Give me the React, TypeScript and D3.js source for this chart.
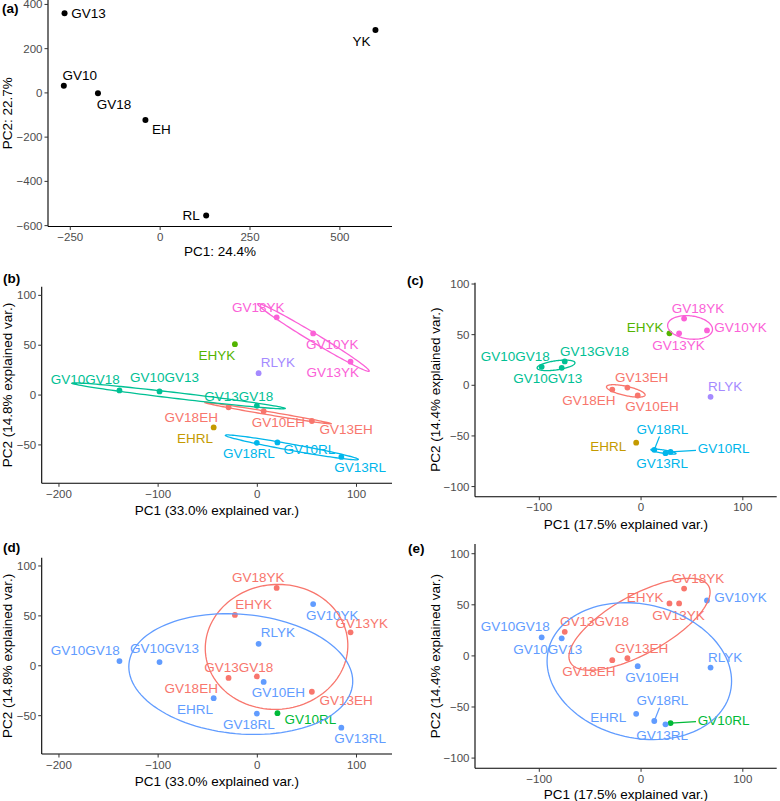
import React from "react";
import * as d3 from "d3";

// ---------- DATA ----------
const A_LABELS = ["GV13", "GV10", "GV18", "EH", "YK", "RL"];
const A_PC1 = [-266, -268, -173, -41, 599, 128];
const A_PC2 = [360, 32, -2, -122, 284, -554];
const A_X_TICKS = [-250, 0, 250, 500];
const A_Y_TICKS = [-600, -400, -200, 0, 200, 400];

const SAMPLES = ["GV18YK", "GV10YK", "GV13YK", "EHYK", "RLYK", "GV10GV18", "GV10GV13", "GV13GV18", "GV18EH", "GV10EH", "GV13EH", "EHRL", "GV18RL", "GV10RL", "GV13RL"];
// PCA used in panels (b) and (d)
const BD_PC1 = [19.5, 56.3, 94, -22.6, 1.3, -139, -98.6, -0.5, -29, 6.4, 55, -44, -0.5, 20.3, 84.7];
const BD_PC2 = [78, 61.8, 33.5, 51, 22, 4.7, 3.7, -10.7, -12.2, -16.2, -26, -32.5, -47.9, -47.5, -62];
// PCA used in panels (c) and (e)
const CE_PC1 = [42.3, 64.8, 37.4, 27.9, 68.3, -97.7, -78, -75, -28.3, -3.3, -13.4, -4.8, 13, 29, 24];
const CE_PC2 = [65.9, 54.2, 51.3, 51.3, -11.4, 18.2, 17.2, 23.6, -4.2, -10.1, -2.3, -56.7, -63.7, -65.7, -67];

const GROUPS7 = ["YK", "YK", "YK", "EHYK", "RLYK", "GVGV", "GVGV", "GVGV", "EH", "EH", "EH", "EHRL", "RL", "RL", "RL"];
const GROUP7_NAMES = ["EH", "EHRL", "EHYK", "GVGV", "RL", "RLYK", "YK"];
const GROUP7_COLORS = ["#F8766D", "#C49A00", "#53B400", "#00C094", "#00B6EB", "#A58AFF", "#FB61D7"];

const GROUPS3 = ["G1", "G3", "G1", "G1", "G3", "G3", "G3", "G1", "G1", "G3", "G1", "G3", "G3", "G2", "G3"];
const GROUP3_NAMES = ["G1", "G2", "G3"];
const GROUP3_COLORS = ["#F8766D", "#00BA38", "#619CFF"];

const BD_X_TICKS = [-200, -100, 0, 100];
const BD_Y_TICKS = [-50, 0, 50, 100];
const CE_X_TICKS = [-100, 0, 100];
const CE_Y_TICKS = [-100, -50, 0, 50, 100];

// ---------- LAYOUT (label offsets in px) ----------
const OFF_A: Record<string, [number, number]> = {
  GV13: [24, 0], GV10: [16, -10], GV18: [16, 11], EH: [16, 10], YK: [-14, 11], RL: [-15, 0],
};
const OFF_BD: Record<string, [number, number]> = {
  GV18YK: [-18.3, -10], GV10YK: [19, 11.3], GV13YK: [-17.7, 11.3], EHYK: [-18, 11], RLYK: [19.3, -11],
  GV10GV18: [-34.3, -11], GV10GV13: [5, -14], GV13GV18: [-18, -9.3], GV18EH: [-37.3, 10.3],
  GV10EH: [14.7, 11.7], GV13EH: [34.3, 9], EHRL: [-18.7, 11], GV18RL: [-8, 10.7], GV10RL: [32, 7], GV13RL: [18.7, 10.7],
};
const OFF_D_OVERRIDE: Record<string, [number, number]> = {
  GV13YK: [11.3, -9.3], EHYK: [18.7, -10], GV10RL: [33, 6.3], GV10EH: [14.7, 10.7],
};
const OFF_CE: Record<string, [number, number]> = {
  GV18YK: [14, -10.5], GV10YK: [33.5, -2.6], GV13YK: [-0.7, 12.3], EHYK: [-24.2, -6.3],
  GV10GV18: [-26.3, -10.3], GV13GV18: [29.7, -10.3], GV10GV13: [-14, 10.8], GV13EH: [14.3, -10.2],
  GV18EH: [-23.3, 11.3], GV10EH: [14.3, 11.3], RLYK: [14.5, -10.2], EHRL: [-28, 4],
  GV18RL: [8, -20.3], GV13RL: [-3.3, 10.8], GV10RL: [53, -3],
};
const SEGMENT_LABELS = ["GV18RL", "GV10RL"];

const FONT = "'Liberation Sans', Arial, Helvetica, sans-serif";
const LABEL_SIZE = 13.5;

function fmt(v: number) {
  return v < 0 ? "\u2212" + Math.abs(v) : String(v);
}

function ellipsePath(xs: number[], ys: number[], sx: any, sy: any) {
  const n = xs.length;
  const mx = d3.mean(xs) as number;
  const my = d3.mean(ys) as number;
  let sxx = 0, syy = 0, sxy = 0;
  for (let i = 0; i < n; i++) {
    sxx += (xs[i] - mx) ** 2;
    syy += (ys[i] - my) ** 2;
    sxy += (xs[i] - mx) * (ys[i] - my);
  }
  sxx /= n - 1; syy /= n - 1; sxy /= n - 1;
  const tr = sxx + syy, det = sxx * syy - sxy * sxy;
  const disc = Math.sqrt(Math.max(tr * tr / 4 - det, 0));
  const l1 = tr / 2 + disc, l2 = Math.max(tr / 2 - disc, 0);
  let v1x: number, v1y: number;
  if (Math.abs(sxy) > 1e-12) { v1x = l1 - syy; v1y = sxy; }
  else if (sxx >= syy) { v1x = 1; v1y = 0; } else { v1x = 0; v1y = 1; }
  const norm = Math.hypot(v1x, v1y);
  v1x /= norm; v1y /= norm;
  const v2x = -v1y, v2y = v1x;
  const r = Math.sqrt(-2 * Math.log(1 - 0.68));
  const pts: [number, number][] = [];
  for (let k = 0; k < 120; k++) {
    const t = (k / 120) * 2 * Math.PI;
    const a = r * Math.sqrt(l1) * Math.cos(t);
    const b = r * Math.sqrt(l2) * Math.sin(t);
    pts.push([sx(mx + a * v1x + b * v2x), sy(my + a * v1y + b * v2y)]);
  }
  return d3.line().curve(d3.curveLinearClosed)(pts) as string;
}

function Axes(props: any) {
  const { sx, sy, xTicks, yTicks, xTitle, yTitle, yTitleX, xTitleY, tag, tagX, tagY } = props;
  const [x0, x1] = sx.range();
  const [y0, y1] = sy.range();
  return (
    <g fontFamily={FONT}>
      <line x1={x0} x2={x1} y1={y0} y2={y0} stroke="black" strokeWidth={1.1} />
      <line x1={x0} x2={x0} y1={y0} y2={y1} stroke="black" strokeWidth={1.1} />
      {xTicks.map((t: number) => (
        <g key={"x" + t}>
          <line x1={sx(t)} x2={sx(t)} y1={y0} y2={y0 + 3.5} stroke="#333" strokeWidth={1} />
          <text x={sx(t)} y={y0 + 10.5} textAnchor="middle" dominantBaseline="central" fontSize={11.5} fill="#4D4D4D">{fmt(t)}</text>
        </g>
      ))}
      {yTicks.map((t: number) => (
        <g key={"y" + t}>
          <line x1={x0} x2={x0 - 3.5} y1={sy(t)} y2={sy(t)} stroke="#333" strokeWidth={1} />
          <text x={x0 - 5.5} y={sy(t)} textAnchor="end" dominantBaseline="central" fontSize={11.5} fill="#4D4D4D">{fmt(t)}</text>
        </g>
      ))}
      <text x={(x0 + x1) / 2} y={xTitleY} textAnchor="middle" dominantBaseline="central" fontSize={13.5} fill="black">{xTitle}</text>
      <text transform={`translate(${yTitleX},${(y0 + y1) / 2}) rotate(-90)`} textAnchor="middle" dominantBaseline="central" fontSize={13.5} fill="black">{yTitle}</text>
      <text x={tagX} y={tagY} fontSize={13.5} fontWeight="bold" fill="black">{tag}</text>
    </g>
  );
}

function PcaPanel(props: any) {
  const { pc1, pc2, groups, groupNames, groupColors, offsets, xDomain, yDomain, xRange, yRange, xTicks, yTicks, xTitle, yTitle, yTitleX, xTitleY, tag, tagX, tagY, segments } = props;
  const sx = d3.scaleLinear().domain(xDomain).range(xRange);
  const sy = d3.scaleLinear().domain(yDomain).range(yRange);
  const color = d3.scaleOrdinal<string, string>().domain(groupNames).range(groupColors);
  const ellipses = groupNames
    .map((g: string) => {
      const idx = groups.map((gg: string, i: number) => (gg === g ? i : -1)).filter((i: number) => i >= 0);
      if (idx.length < 3) return null;
      return { g, d: ellipsePath(idx.map((i: number) => pc1[i]), idx.map((i: number) => pc2[i]), sx, sy) };
    })
    .filter(Boolean) as { g: string; d: string }[];
  return (
    <g>
      <Axes sx={sx} sy={sy} xTicks={xTicks} yTicks={yTicks} xTitle={xTitle} yTitle={yTitle} yTitleX={yTitleX} xTitleY={xTitleY} tag={tag} tagX={tagX} tagY={tagY} />
      {SAMPLES.map((s, i) => (
        <circle key={"p" + s} cx={sx(pc1[i])} cy={sy(pc2[i])} r={2.9} fill={color(groups[i])} />
      ))}
      {SAMPLES.map((s, i) => {
        const [dx, dy] = offsets[s];
        return (
          <text key={"l" + s} x={sx(pc1[i]) + dx} y={sy(pc2[i]) + dy} textAnchor="middle" dominantBaseline="central" fontFamily={FONT} fontSize={LABEL_SIZE} fill={color(groups[i])}>{s}</text>
        );
      })}
      {ellipses.map((e) => (
        <path key={"e" + e.g} d={e.d} fill="none" stroke={color(e.g)} strokeWidth={1.3} />
      ))}
      {segments &&
        SAMPLES.map((s, i) => {
          if (!SEGMENT_LABELS.includes(s)) return null;
          const [dx, dy] = offsets[s];
          const px = sx(pc1[i]), py = sy(pc2[i]);
          const cx = px + dx, cy = py + dy;
          const halfW = (s.length * 8.7) / 2 + 1.5;
          const halfH = 7;
          const sc = Math.min(Math.abs(dx) > 0 ? halfW / Math.abs(dx) : 99, Math.abs(dy) > 0 ? halfH / Math.abs(dy) : 99);
          const ex = cx - dx * sc, ey = cy - dy * sc;
          return <line key={"s" + s} x1={px} y1={py} x2={ex} y2={ey} stroke={color(groups[i])} strokeWidth={1.2} />;
        })}
    </g>
  );
}

function PanelA() {
  const sx = d3.scaleLinear().domain([-312, 645]).range([48, 392]);
  const sy = d3.scaleLinear().domain([-604, 420]).range([226.5, 0]);
  return (
    <g>
      <Axes sx={sx} sy={sy} xTicks={A_X_TICKS} yTicks={A_Y_TICKS} xTitle="PC1: 24.4%" yTitle="PC2: 22.7%" yTitleX={7} xTitleY={251} tag="(a)" tagX={2} tagY={13} />
      {A_LABELS.map((s, i) => (
        <circle key={"p" + s} cx={sx(A_PC1[i])} cy={sy(A_PC2[i])} r={3} fill="black" />
      ))}
      {A_LABELS.map((s, i) => {
        const [dx, dy] = OFF_A[s];
        return (
          <text key={"l" + s} x={sx(A_PC1[i]) + dx} y={sy(A_PC2[i]) + dy} textAnchor="middle" dominantBaseline="central" fontFamily={FONT} fontSize={LABEL_SIZE} fill="black">{s}</text>
        );
      })}
    </g>
  );
}

export default function App() {
  const offD = { ...OFF_BD, ...OFF_D_OVERRIDE };
  const bdTitleX = "PC1 (33.0% explained var.)";
  const bdTitleY = "PC2 (14.8% explained var.)";
  const ceTitleX = "PC1 (17.5% explained var.)";
  const ceTitleY = "PC2 (14.4% explained var.)";
  return (
    <svg width={780} height={801} style={{ position: "absolute", left: 0, top: 0, display: "block", background: "white" }}>
      <rect x={0} y={0} width={780} height={801} fill="white" />
      <PanelA />
      <PcaPanel pc1={BD_PC1} pc2={BD_PC2} groups={GROUPS7} groupNames={GROUP7_NAMES} groupColors={GROUP7_COLORS} offsets={OFF_BD}
        xDomain={[-217.4, 135.8]} yDomain={[-88.5, 108.7]} xRange={[41.7, 392]} yRange={[483.3, 286.7]}
        xTicks={BD_X_TICKS} yTicks={BD_Y_TICKS} xTitle={bdTitleX} yTitle={bdTitleY} yTitleX={7} xTitleY={510} tag="(b)" tagX={3} tagY={282.5} segments={false} />
      <PcaPanel pc1={CE_PC1} pc2={CE_PC2} groups={GROUPS7} groupNames={GROUP7_NAMES} groupColors={GROUP7_COLORS} offsets={OFF_CE}
        xDomain={[-163.2, 133.3]} yDomain={[-110, 101.3]} xRange={[475, 776.7]} yRange={[496.7, 282.7]}
        xTicks={CE_X_TICKS} yTicks={CE_Y_TICKS} xTitle={ceTitleX} yTitle={ceTitleY} yTitleX={435} xTitleY={524} tag="(c)" tagX={407} tagY={284.5} segments={true} />
      <PcaPanel pc1={BD_PC1} pc2={BD_PC2} groups={GROUPS3} groupNames={GROUP3_NAMES} groupColors={GROUP3_COLORS} offsets={offD}
        xDomain={[-217.4, 135.8]} yDomain={[-88.4, 108.3]} xRange={[41.7, 392]} yRange={[754, 557.7]}
        xTicks={BD_X_TICKS} yTicks={BD_Y_TICKS} xTitle={bdTitleX} yTitle={bdTitleY} yTitleX={7} xTitleY={781.5} tag="(d)" tagX={3} tagY={552} segments={false} />
      <PcaPanel pc1={CE_PC1} pc2={CE_PC2} groups={GROUPS3} groupNames={GROUP3_NAMES} groupColors={GROUP3_COLORS} offsets={OFF_CE}
        xDomain={[-163.2, 133.3]} yDomain={[-110, 109.5]} xRange={[475, 776.7]} yRange={[768.3, 544]}
        xTicks={CE_X_TICKS} yTicks={CE_Y_TICKS} xTitle={ceTitleX} yTitle={ceTitleY} yTitleX={435} xTitleY={794} tag="(e)" tagX={408} tagY={552.5} segments={true} />
    </svg>
  );
}
